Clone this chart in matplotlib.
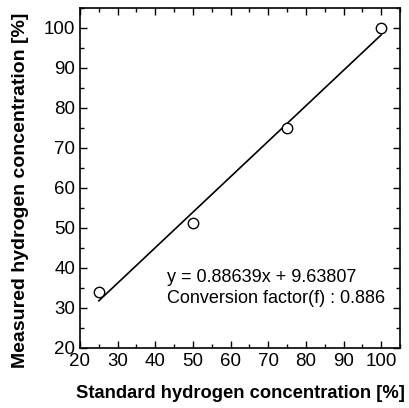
import numpy as np
import matplotlib
matplotlib.use('Agg')
import matplotlib.pyplot as plt
from matplotlib.ticker import MultipleLocator

plt.rcParams['font.family'] = ['Liberation Sans', 'DejaVu Sans']

standard = [25, 50, 75, 100]
measured = [34, 51.2, 75, 100]
slope = 0.88639
intercept = 9.63807

fig = plt.figure(figsize=(4.09, 4.08), dpi=100)
ax = fig.add_axes([80/409, 60/408, 320/409, 340/408])

xfit = np.array([standard[0], standard[-1]])
ax.plot(xfit, slope * xfit + intercept, color='black', lw=1.2)
ax.plot(standard, measured, 'o', mfc='white', mec='black', ms=7.5, mew=1.0)

ax.text(43, 37.7, 'y = 0.88639x + 9.63807', fontsize=13, va='center')
ax.text(43, 32.4, 'Conversion factor(f) : 0.886', fontsize=13, va='center')

ax.set_xlim(20, 105)
ax.set_ylim(20, 105)
ax.xaxis.set_major_locator(MultipleLocator(10))
ax.yaxis.set_major_locator(MultipleLocator(10))
ax.xaxis.set_minor_locator(MultipleLocator(5))
ax.yaxis.set_minor_locator(MultipleLocator(5))
ax.tick_params(which='both', direction='in', top=True, right=True, labelsize=13.5, width=1)
ax.tick_params(which='major', length=5)
ax.tick_params(which='minor', length=3)
for s in ax.spines.values():
    s.set_linewidth(1.2)

ax.set_xlabel('Standard hydrogen concentration [%]', fontsize=13.2, fontweight='bold', labelpad=11)
ax.set_ylabel('Measured hydrogen concentration [%]', fontsize=14, fontweight='bold')
ax.yaxis.set_label_coords(-0.16, 0.463)

fig.savefig('out.png', dpi=100)
